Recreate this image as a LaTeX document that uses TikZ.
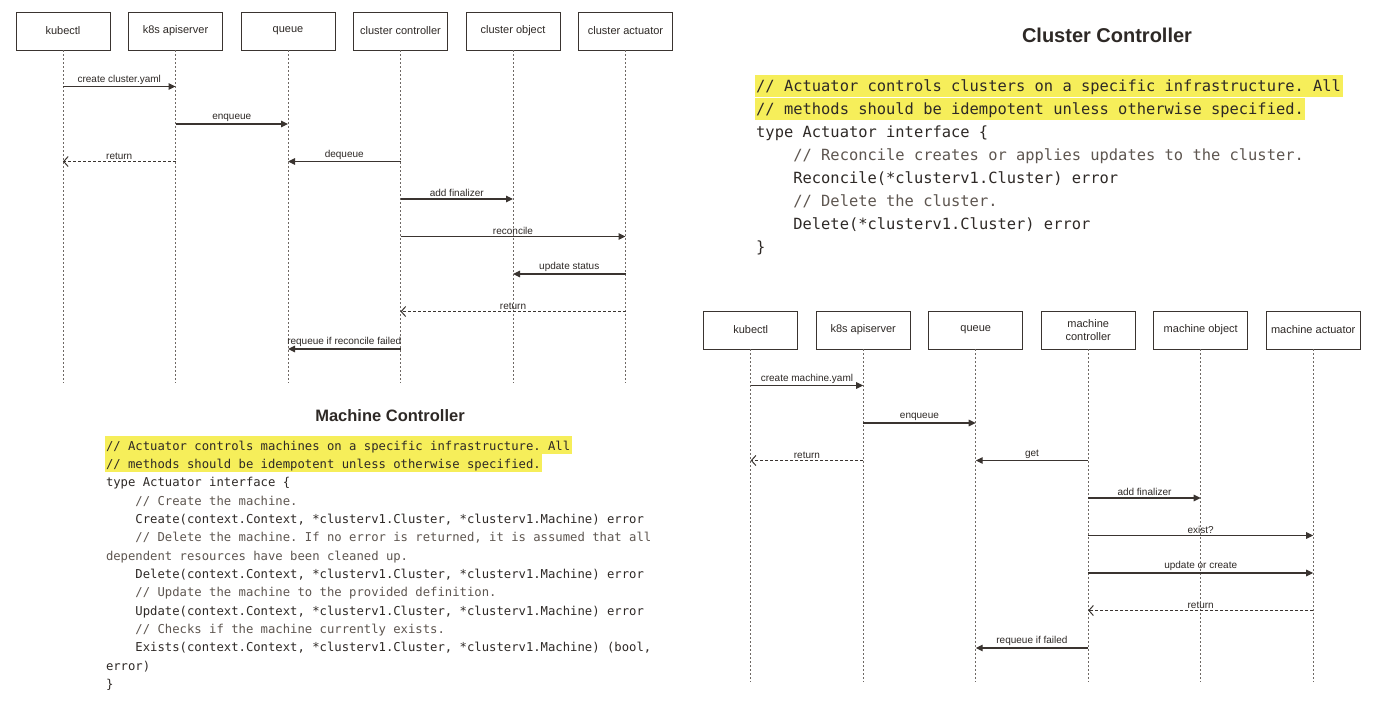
\documentclass[tikz,border=0pt]{standalone}
\usepackage{fontspec}
\setmainfont{Liberation Sans}
\newfontfamily\codefont{DejaVu Sans Mono}
\usetikzlibrary{arrows.meta}
\frenchspacing

\definecolor{ink}{HTML}{3A3430}
\definecolor{lifegray}{HTML}{6E6864}
\definecolor{codeink}{HTML}{2E2926}
\definecolor{commentink}{HTML}{5E5650}
\definecolor{marker}{HTML}{F6EE5A}

\newcommand{\ind}{\hphantom{0000}}

\tikzset{
	actor/.style={draw=ink, line width=0.9pt, minimum width=94, minimum height=38, inner sep=1pt, align=center, text=codeink, font=\fontsize{11}{12.5}\selectfont},
	life/.style={draw=lifegray, line width=0.7pt, dash pattern=on 2pt off 2pt},
	call/.style={draw=ink, line width=1.1pt, -{Triangle[length=7pt,width=6.5pt]}},
	reply/.style={draw=ink, line width=1pt, dash pattern=on 3pt off 2pt, -{Straight Barb[length=4.5pt,width=10pt]}},
	msglabel/.style={above, inner sep=1.5pt, text=codeink, font=\fontsize{10}{11}\selectfont},
	title/.style={text=codeink, font=\bfseries\fontsize{#1}{#1}\selectfont},
	codeline/.style={anchor=base west, inner xsep=1.5pt, inner ysep=0pt, text=codeink},
	comment/.style={codeline, text=commentink},
	bigcode/.style={font=\codefont\fontsize{15.42}{18}\selectfont},
	smallcode/.style={font=\codefont\fontsize{12.24}{14}\selectfont},
	marked/.style={fill=marker}
}

\begin{document}
\begin{tikzpicture}[x=1pt,y=-1pt]
	\useasboundingbox (0,0) rectangle (1400,710);
	\fill[white] (0,0) rectangle (1400,710);

	% cluster sequence
	\begin{scope}
		\node[actor] (c-kubectl) at (63,31) {kubectl};
		\node[actor] (c-api) at (175.5,31) {k8s apiserver};
		\node[actor] (c-queue) at (288,31) {queue};
		\node[actor] (c-ctrl) at (400.5,31) {cluster controller};
		\node[actor] (c-obj) at (513,31) {cluster object};
		\node[actor] (c-act) at (625.5,31) {cluster actuator};
		\coordinate (c-end) at (0,383);
		\foreach \n in {c-kubectl,c-api,c-queue,c-ctrl,c-obj,c-act}
			\draw[life] (\n.south) -- (\n |- c-end);
		\foreach \i in {1,...,8}
			\coordinate (c-r\i) at (0,{86.5+37.5*(\i-1)});

		\draw[call] (c-kubectl |- c-r1) -- node[msglabel] {create cluster.yaml} (c-api |- c-r1);
		\draw[call] (c-api |- c-r2) -- node[msglabel] {enqueue} (c-queue |- c-r2);
		\draw[reply] (c-api |- c-r3) -- node[msglabel] {return} (c-kubectl |- c-r3);
		\draw[call] (c-ctrl |- c-r3) -- node[msglabel] {dequeue} (c-queue |- c-r3);
		\draw[call] (c-ctrl |- c-r4) -- node[msglabel] {add finalizer} (c-obj |- c-r4);
		\draw[call] (c-ctrl |- c-r5) -- node[msglabel] {reconcile} (c-act |- c-r5);
		\draw[call] (c-act |- c-r6) -- node[msglabel] {update status} (c-obj |- c-r6);
		\draw[reply] (c-act |- c-r7) -- node[msglabel] {return} (c-ctrl |- c-r7);
		\draw[call] (c-ctrl |- c-r8) -- node[msglabel] {requeue if reconcile failed} (c-queue |- c-r8);
	\end{scope}

	% machine sequence
	\begin{scope}[shift={(687.7,299)}]
		\node[actor] (m-kubectl) at (63,31) {kubectl};
		\node[actor] (m-api) at (175.5,31) {k8s apiserver};
		\node[actor] (m-queue) at (288,31) {queue};
		\node[actor] (m-ctrl) at (400.5,31) {machine\\controller};
		\node[actor] (m-obj) at (513,31) {machine object};
		\node[actor] (m-act) at (625.5,31) {machine actuator};
		\coordinate (m-end) at (0,383);
		\foreach \n in {m-kubectl,m-api,m-queue,m-ctrl,m-obj,m-act}
			\draw[life] (\n.south) -- (\n |- m-end);
		\foreach \i in {1,...,8}
			\coordinate (m-r\i) at (0,{86.5+37.5*(\i-1)});

		\draw[call] (m-kubectl |- m-r1) -- node[msglabel] {create machine.yaml} (m-api |- m-r1);
		\draw[call] (m-api |- m-r2) -- node[msglabel] {enqueue} (m-queue |- m-r2);
		\draw[reply] (m-api |- m-r3) -- node[msglabel] {return} (m-kubectl |- m-r3);
		\draw[call] (m-ctrl |- m-r3) -- node[msglabel] {get} (m-queue |- m-r3);
		\draw[call] (m-ctrl |- m-r4) -- node[msglabel] {add finalizer} (m-obj |- m-r4);
		\draw[call] (m-ctrl |- m-r5) -- node[msglabel] {exist?} (m-act |- m-r5);
		\draw[call] (m-ctrl |- m-r6) -- node[msglabel] {update or create} (m-act |- m-r6);
		\draw[reply] (m-act |- m-r7) -- node[msglabel] {return} (m-ctrl |- m-r7);
		\draw[call] (m-ctrl |- m-r8) -- node[msglabel] {requeue if failed} (m-queue |- m-r8);
	\end{scope}

	% cluster actuator interface
	\node[title=20] (c-title) at (1107,35) {Cluster Controller};
	\begin{scope}[bigcode, marked/.append style={text height=17pt, text depth=5pt}]
		\node[comment, marked, text=codeink] (c-code1) at (754.5,91.7) {// Actuator controls clusters on a specific infrastructure. All};
		\node[comment, marked, text=codeink] (c-code2) at (754.5,114.7) {// methods should be idempotent unless otherwise specified.};
		\node[codeline] (c-code3) at (754.5,137.7) {type Actuator interface \{};
		\node[comment] (c-code4) at (754.5,160.7) {\ind// Reconcile creates or applies updates to the cluster.};
		\node[codeline] (c-code5) at (754.5,183.7) {\ind Reconcile(*clusterv1.Cluster) error};
		\node[comment] (c-code6) at (754.5,206.7) {\ind// Delete the cluster.};
		\node[codeline] (c-code7) at (754.5,229.7) {\ind Delete(*clusterv1.Cluster) error};
		\node[codeline] (c-code8) at (754.5,252.7) {\}};
	\end{scope}

	% machine actuator interface
	\node[title=16.5] (m-title) at (390,416) {Machine Controller};
	\begin{scope}[smallcode, marked/.append style={text height=14pt, text depth=3.5pt}]
		\node[comment, marked, text=codeink] (m-code1) at (104.3,450) {// Actuator controls machines on a specific infrastructure. All};
		\node[comment, marked, text=codeink] (m-code2) at (104.3,468.3) {// methods should be idempotent unless otherwise specified.};
		\node[codeline] (m-code3) at (104.3,486.7) {type Actuator interface \{};
		\node[comment] (m-code4) at (104.3,505) {\ind// Create the machine.};
		\node[codeline] (m-code5) at (104.3,523.3) {\ind Create(context.Context, *clusterv1.Cluster, *clusterv1.Machine) error};
		\node[comment] (m-code6) at (104.3,541.7) {\ind// Delete the machine. If no error is returned, it is assumed that all};
		\node[comment] (m-code7) at (104.3,560) {dependent resources have been cleaned up.};
		\node[codeline] (m-code8) at (104.3,578.3) {\ind Delete(context.Context, *clusterv1.Cluster, *clusterv1.Machine) error};
		\node[comment] (m-code9) at (104.3,596.7) {\ind// Update the machine to the provided definition.};
		\node[codeline] (m-code10) at (104.3,615) {\ind Update(context.Context, *clusterv1.Cluster, *clusterv1.Machine) error};
		\node[comment] (m-code11) at (104.3,633.3) {\ind// Checks if the machine currently exists.};
		\node[codeline] (m-code12) at (104.3,651.7) {\ind Exists(context.Context, *clusterv1.Cluster, *clusterv1.Machine) (bool,};
		\node[codeline] (m-code13) at (104.3,670) {error)};
		\node[codeline] (m-code14) at (104.3,688.3) {\}};
	\end{scope}
\end{tikzpicture}
\end{document}
